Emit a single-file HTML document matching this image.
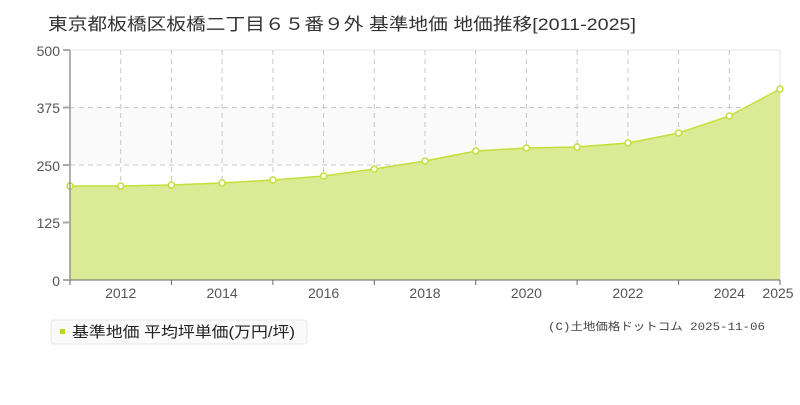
<!DOCTYPE html>
<html><head><meta charset="utf-8"><style>
body{margin:0;background:#fff;width:800px;height:400px;overflow:hidden;font-family:"Liberation Sans","Noto Sans CJK JP",sans-serif}
</style></head><body>
<svg width="800" height="400" xmlns="http://www.w3.org/2000/svg" style="font-family:'Liberation Sans','Noto Sans CJK JP',sans-serif">
<text x="48" y="30" font-size="17" fill="#333" textLength="588" lengthAdjust="spacingAndGlyphs">東京都板橋区板橋二丁目６５番９外 基準地価 地価推移[2011-2025]</text>
<rect x="70" y="107.5" width="710" height="57.5" fill="#fbfafb"/>
<rect x="70" y="50" width="710" height="230" fill="none" stroke="#e4e4e4"/>
<g stroke="#c8c8c8" stroke-dasharray="5,4" stroke-width="1">
<line x1="70" y1="107.5" x2="780" y2="107.5"/><line x1="70" y1="165" x2="780" y2="165"/><line x1="70" y1="222.5" x2="780" y2="222.5"/>
<line x1="120.7" y1="50" x2="120.7" y2="280"/><line x1="171.4" y1="50" x2="171.4" y2="280"/><line x1="222.1" y1="50" x2="222.1" y2="280"/><line x1="272.9" y1="50" x2="272.9" y2="280"/><line x1="323.6" y1="50" x2="323.6" y2="280"/><line x1="374.3" y1="50" x2="374.3" y2="280"/><line x1="425" y1="50" x2="425" y2="280"/><line x1="475.7" y1="50" x2="475.7" y2="280"/><line x1="526.4" y1="50" x2="526.4" y2="280"/><line x1="577.1" y1="50" x2="577.1" y2="280"/><line x1="627.9" y1="50" x2="627.9" y2="280"/><line x1="678.6" y1="50" x2="678.6" y2="280"/><line x1="729.3" y1="50" x2="729.3" y2="280"/>
</g>
<path d="M70,186 L120.7,186 L171.4,185 L222.1,183 L272.9,180 L323.6,176 L374.3,169 L425,161 L475.7,151 L526.4,148 L577.1,147 L627.9,143 L678.6,133 L729.3,116 L780,89 L780,280 L70,280Z" fill="#dbeb95"/>
<path d="M70,186 L120.7,186 L171.4,185 L222.1,183 L272.9,180 L323.6,176 L374.3,169 L425,161 L475.7,151 L526.4,148 L577.1,147 L627.9,143 L678.6,133 L729.3,116 L780,89" fill="none" stroke="#c4df3a" stroke-width="1.5"/>
<g fill="#fff" stroke="#c4df3a" stroke-width="1.5">
<circle cx="70" cy="186" r="3"/><circle cx="120.7" cy="186" r="3"/><circle cx="171.4" cy="185" r="3"/><circle cx="222.1" cy="183" r="3"/><circle cx="272.9" cy="180" r="3"/><circle cx="323.6" cy="176" r="3"/><circle cx="374.3" cy="169" r="3"/><circle cx="425" cy="161" r="3"/><circle cx="475.7" cy="151" r="3"/><circle cx="526.4" cy="148" r="3"/><circle cx="577.1" cy="147" r="3"/><circle cx="627.9" cy="143" r="3"/><circle cx="678.6" cy="133" r="3"/><circle cx="729.3" cy="116" r="3"/><circle cx="780" cy="89" r="3"/>
</g>
<g stroke="#666"><line x1="70" y1="50" x2="70" y2="280"/><line x1="70" y1="280" x2="780" y2="280"/></g>
<g stroke="#aaa" stroke-width="2"><line x1="63" y1="50" x2="70" y2="50"/><line x1="63" y1="107.5" x2="70" y2="107.5"/><line x1="63" y1="165" x2="70" y2="165"/><line x1="63" y1="222.5" x2="70" y2="222.5"/><line x1="63" y1="280" x2="70" y2="280"/></g>
<g stroke="#666"><line x1="70" y1="280" x2="70" y2="285"/><line x1="171.4" y1="280" x2="171.4" y2="285"/><line x1="272.9" y1="280" x2="272.9" y2="285"/><line x1="374.3" y1="280" x2="374.3" y2="285"/><line x1="475.7" y1="280" x2="475.7" y2="285"/><line x1="577.1" y1="280" x2="577.1" y2="285"/><line x1="678.6" y1="280" x2="678.6" y2="285"/><line x1="780" y1="280" x2="780" y2="285"/></g>
<g font-size="14" fill="#555" text-anchor="end">
<text x="60" y="56">500</text><text x="60" y="113">375</text><text x="60" y="171">250</text><text x="60" y="228">125</text><text x="60" y="286">0</text>
</g>
<g font-size="14" fill="#555" text-anchor="middle">
<text x="120.7" y="298">2012</text><text x="222.1" y="298">2014</text><text x="323.6" y="298">2016</text><text x="425" y="298">2018</text><text x="526.4" y="298">2020</text><text x="627.9" y="298">2022</text><text x="729.3" y="298">2024</text><text x="778" y="298">2025</text>
</g>
<rect x="51" y="320" width="256" height="24" rx="3" fill="#fafafa" stroke="#e8e8e8"/>
<rect x="60" y="329" width="5" height="5" fill="#b8d82a"/>
<text x="72" y="337" font-size="15" fill="#222" textLength="223" lengthAdjust="spacingAndGlyphs">基準地価 平均坪単価(万円/坪)</text>
<text x="548" y="330" font-size="11" fill="#444" textLength="217" lengthAdjust="spacingAndGlyphs" font-family="'Liberation Mono','Noto Sans CJK JP',monospace">(C)土地価格ドットコム 2025-11-06</text>
</svg>
</body></html>
